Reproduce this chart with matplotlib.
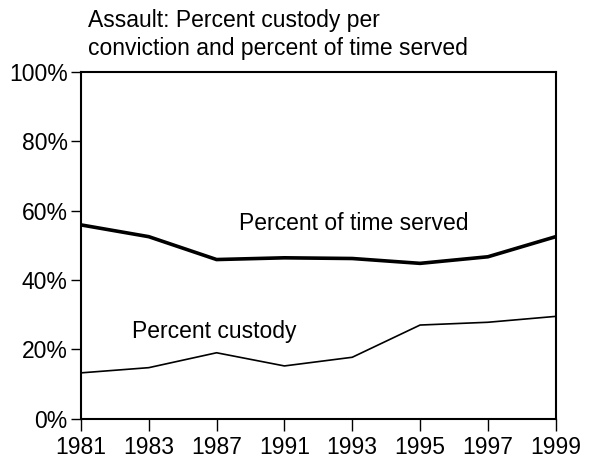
import matplotlib.pyplot as plt
import numpy as np

plt.rcParams['font.family'] = ['Liberation Sans', 'DejaVu Sans']

# data
years = ['1981', '1983', '1987', '1991', '1993', '1995', '1997', '1999']
time_served = [55.9, 52.5, 45.9, 46.4, 46.2, 44.8, 46.7, 52.5]
custody = [13.2, 14.7, 19.0, 15.2, 17.7, 27.0, 27.8, 29.5]
yticks = [0, 20, 40, 60, 80, 100]

x = np.arange(len(years))

fig = plt.figure(figsize=(5.95, 4.59), dpi=100)
ax = fig.add_axes([0.136, 0.088, 0.798, 0.755])

ax.plot(x, time_served, color='black', lw=2.6, solid_joinstyle='miter')
ax.plot(x, custody, color='black', lw=1.2)

ax.set_xlim(0, len(years) - 1)
ax.set_ylim(0, 100)
ax.set_xticks(x)
ax.set_xticklabels(years)
ax.set_yticks(yticks)
ax.set_yticklabels([f'{v}%' for v in yticks])
ax.tick_params(axis='x', length=8.5, width=1, labelsize=16.5, pad=4)
ax.tick_params(axis='y', length=7.5, width=1, labelsize=16.5, pad=2)

for s in ax.spines.values():
    s.set_linewidth(1.5)

ax.text(2.33, 56.4, 'Percent of time served', fontsize=16.5, va='center', ha='left')
ax.text(0.75, 25.0, 'Percent custody', fontsize=16.5, va='center', ha='left')

fig.text(88 / 595, 1 - 20 / 459, 'Assault: Percent custody per', fontsize=16.5, va='center', ha='left')
fig.text(88 / 595, 1 - 48 / 459, 'conviction and percent of time served', fontsize=16.5, va='center', ha='left')

fig.savefig('out.png', dpi=100)
